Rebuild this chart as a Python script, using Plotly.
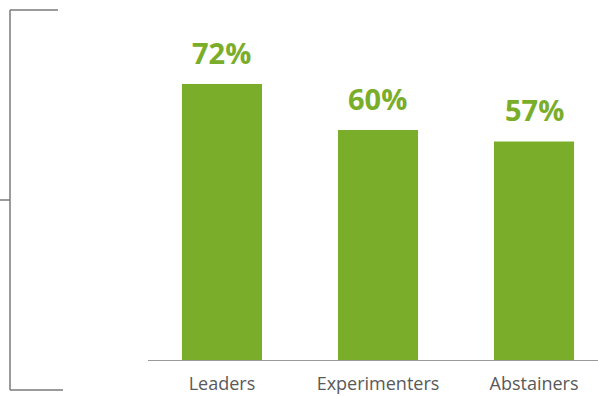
import plotly.graph_objects as go

categories = ["Leaders", "Experimenters", "Abstainers"]
values = [72, 60, 57]
value_labels = [f"{v}%" for v in values]

GREEN = "#7aad2a"
BRACKET = "#7a7a7a"

W, H = 598, 396
ml, mr, mt, mb = 148, 0, 10, 36
plot_w = W - ml - mr
plot_h = H - mt - mb


def px_x(px):
    return (px - ml) / plot_w


def px_y(py):
    return (H - mb - py) / plot_h


fig = go.Figure(
    go.Bar(
        x=categories,
        y=values,
        marker=dict(color=GREEN, line=dict(width=0)),
        width=0.513,
        hoverinfo="x+y",
    )
)

# value labels above each bar
annotations = [
    dict(x=c, y=v, xref="x", yref="y", text=f"<b>{t}</b>",
         showarrow=False, yanchor="bottom", yshift=10,
         font=dict(family="Open Sans", size=29, color=GREEN))
    for c, v, t in zip(categories, values, value_labels)
]

# left bracket drawn in page pixels
bracket = [
    (10, 10, 58, 10),
    (10, 10, 10, 390),
    (10, 390, 63, 390),
    (0, 200, 10, 200),
]
shapes = [
    dict(type="line", xref="paper", yref="paper",
         x0=px_x(a), y0=px_y(b), x1=px_x(c), y1=px_y(d),
         line=dict(color=BRACKET, width=1.5))
    for a, b, c, d in bracket
]

fig.update_layout(
    width=W, height=H,
    margin=dict(l=ml, r=mr, t=mt, b=mb),
    plot_bgcolor="white", paper_bgcolor="white",
    showlegend=False,
    shapes=shapes,
    annotations=annotations,
    xaxis=dict(
        range=[-0.474, 2.41],
        showgrid=False, zeroline=False,
        showline=True, linecolor="#9a9a9a", linewidth=1,
        ticks="", ticklabelstandoff=7,
        tickfont=dict(family="Open Sans", size=18, color="#595959"),
    ),
    yaxis=dict(
        range=[0, 91.3],
        visible=False, showgrid=False, zeroline=False,
    ),
)

fig.write_html("out.html")
